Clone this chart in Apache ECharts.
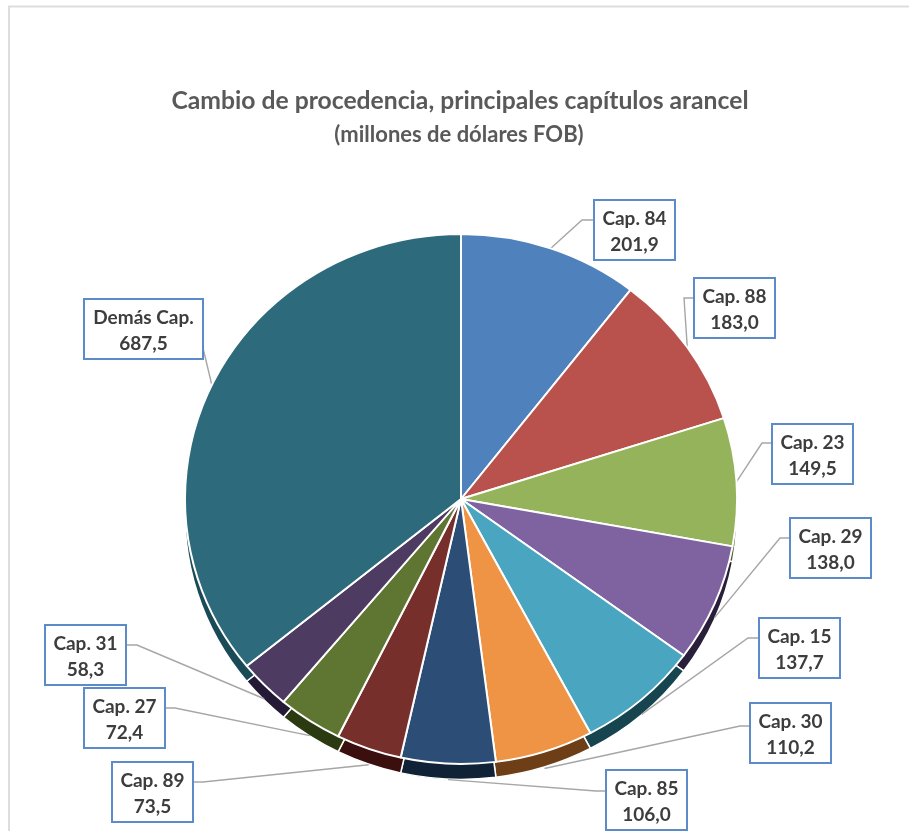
<!DOCTYPE html>
<html><head><meta charset="utf-8">
<style>html,body{margin:0;padding:0;background:#fff}#c{width:909px;height:831px}</style>
<script src="https://cdn.jsdelivr.net/npm/echarts@6/dist/echarts.min.js"></script>
</head><body><div id="c"></div>
<script>
const categories = ['Cap. 84','Cap. 88','Cap. 23','Cap. 29','Cap. 15','Cap. 30','Cap. 85','Cap. 89','Cap. 27','Cap. 31','Demás Cap.'];
const values = [201.9,183.0,149.5,138.0,137.7,110.2,106.0,73.5,72.4,58.3,687.5];
const topColors = ['#4F81BD','#B9514C','#95B35A','#7F62A0','#4AA6C0','#EE9444','#2C4D75','#772F2C','#5F7532','#4D3B62','#2D6A7B'];
const rimColors = ['#2A4666','#6B2A28','#4F6128','#2A1F3A','#17454F','#6E3F17','#0F2236','#3A0F0D','#2B3A10','#241A35','#1B4A57'];
// label box [left, top, width], leader-line elbow/end, and how far the leader starts below the top surface edge
const labelBoxes = [[594,201,81],[694,279,81],[772,425,81],[790,519,81],[759,619,81],[750,704,81],[606,771,81],[112,763,81],[84,689,81],[45,626,81],[84,300,119]];
const leaderElbows = [[[582,220],[594,220]],[[684,298],[694,298]],[[762,443],[772,443]],[[780,538],[790,538]],[[748,638],[759,638]],[[740,726],[750,726]],[[596,791],[606,791]],[[203,782],[193,782]],[[175,708],[164,708]],[[137,645],[125,645]],[[203,348],[203,348]]];
const leaderStartDrop = [0,0,0,14,15,17,16,16,15,14,0];

const cx = 461, cy = 499, radius = 276, flatten = 0.96, rimDepth = 16;
const chart = echarts.init(document.getElementById('c'), null, {renderer:'canvas'});
const font = 'Lato, "Open Sans", sans-serif';
const comma = v => v.toFixed(1).replace('.', ',');

chart.setOption({
  animation:false,
  backgroundColor:'#fff',
  graphic:[
    {type:'rect',shape:{x:9,y:6.5,width:920,height:860},style:{fill:'none',stroke:'#DDDDDD',lineWidth:2},silent:true,z:0},
    {type:'text',x:461,y:-14,style:{text:'Figura 8',fontFamily:'"Liberation Sans",Arial,sans-serif',fontWeight:'bold',fontSize:24,fill:'#000',align:'center',verticalAlign:'middle'},z:1}
  ],
  title:[
    {text:'Cambio de procedencia, principales capítulos arancel',left:455,top:84,textAlign:'center',
     textStyle:{fontFamily:font,fontWeight:'bold',fontSize:24.7,color:'#595959'}},
    {text:'(millones de dólares FOB)',left:454,top:119,textAlign:'center',
     textStyle:{fontFamily:font,fontWeight:'bold',fontSize:22,color:'#595959'}}
  ],
  series:[
    {type:'pie',silent:true,z:1,center:[cx,cy+rimDepth],radius:radius,startAngle:90,clockwise:true,
     label:{show:false},labelLine:{show:false},
     itemStyle:{borderColor:'#fff',borderWidth:1.5},
     data:values.map((v,i)=>({name:categories[i],value:v,itemStyle:{color:rimColors[i]}}))},
    {type:'pie',silent:true,z:2,center:[cx,cy],radius:radius,startAngle:90,clockwise:true,avoidLabelOverlap:false,
     itemStyle:{borderColor:'#fff',borderWidth:2},
     labelLine:{show:true,length:12,length2:12,lineStyle:{color:'#A6A6A6',width:1.4}},
     label:{show:true,position:'outside',fontFamily:font,fontWeight:'bold',fontSize:19,color:'#3D3D3D',lineHeight:26,
       backgroundColor:'#fff',borderColor:'#5B8CC9',borderWidth:2,padding:[5,0,1,0],align:'center',
       formatter:p=>p.name+'\n'+comma(p.value)},
     labelLayout:p=>{
       const i=p.dataIndex,b=labelBoxes[i],s=p.labelLinePoints[0];
       return {x:b[0]+b[2]/2,y:b[1],align:'center',verticalAlign:'top',
         labelLinePoints:[[s[0],cy+(s[1]-cy)*flatten+leaderStartDrop[i]],leaderElbows[i][0],leaderElbows[i][1]]};
     },
     data:values.map((v,i)=>({name:categories[i],value:v,itemStyle:{color:topColors[i]},label:{width:labelBoxes[i][2]-2}}))}
  ]
});
// Slightly flatten the pies vertically: the reference's pie is tilted, so its outline is an ellipse.
(chart._chartsViews||[]).forEach(v=>{
  v.group.originX=cx; v.group.originY=cy; v.group.scaleY=flatten; v.group.markRedraw&&v.group.markRedraw();
  v.group.traverse(e=>{e.markRedraw&&e.markRedraw();});
});
chart.getZr().refresh();
</script></body></html>
